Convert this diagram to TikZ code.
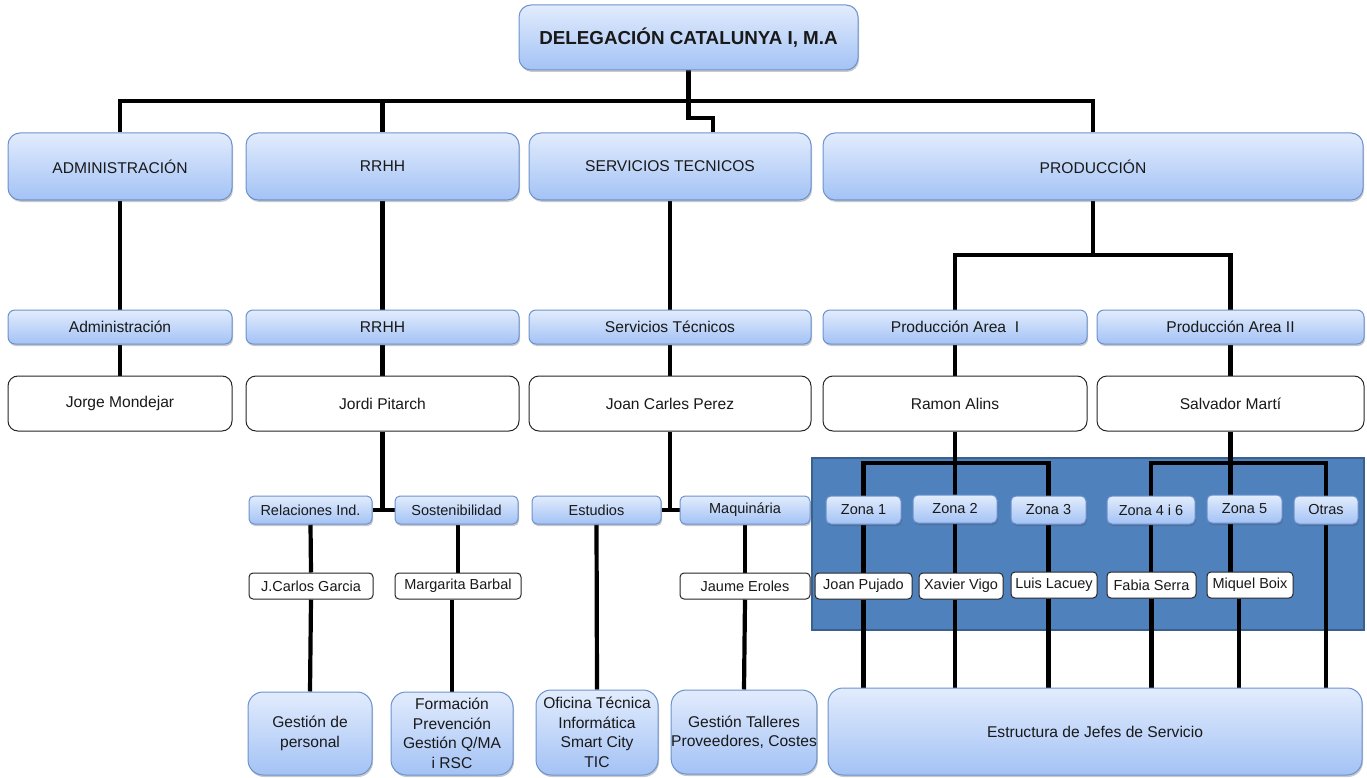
\documentclass[tikz,border=0pt]{standalone}
\usepackage{fontspec}
\setmainfont{Liberation Sans}
\usetikzlibrary{shadows}
\definecolor{blueTop}{RGB}{226,236,253}
\definecolor{blueBot}{RGB}{163,194,245}
\definecolor{blueBorder}{RGB}{108,146,204}
\definecolor{panelFill}{RGB}{79,129,189}
\definecolor{panelBorder}{RGB}{58,96,142}
\definecolor{txt}{RGB}{25,25,25}
\pgfdeclarelayer{panel}
\pgfdeclarelayer{lines}
\pgfsetlayers{panel,lines,main}
\tikzset{
  shade box/.style={draw=blueBorder, line width=1pt, top color=blueTop, bottom color=blueBot,
    rounded corners=#1, inner sep=0pt, align=center, text=txt,
    drop shadow={shadow xshift=1pt, shadow yshift=-2pt, opacity=0.3, fill=black!70}},
  white box/.style={draw=black!85, line width=1pt, fill=white, rounded corners=#1,
    inner sep=0pt, align=center, text=txt},
  big/.style={font=\fontsize{15.6}{19}\selectfont},
  small/.style={font=\fontsize{14.5}{18}\selectfont},
  bottomtxt/.style={font=\fontsize{15.6}{19.5}\selectfont},
  conn/.style={line width=4.2pt, draw=black},
}
\begin{document}
\begin{tikzpicture}[x=1pt,y=-1pt]
\useasboundingbox (0,0) rectangle (1367,778);

% title
\node[shade box=12, minimum width=339, minimum height=65, font=\fontsize{18.8}{22}\selectfont\bfseries] (title) at (688.5,37.5) {DELEGACIÓN CATALUNYA I, M.A};

% level 1
\node[shade box=12, big, minimum width=224, minimum height=67] (adm) at (120,166.5) {ADMINISTRACIÓN};
\node[shade box=12, big, minimum width=273, minimum height=67] (rrhh) at (382.5,166.5) {RRHH};
\node[shade box=12, big, minimum width=282, minimum height=67] (serv) at (670,166.5) {SERVICIOS TECNICOS};
\node[shade box=12, big, minimum width=540, minimum height=67] (prod) at (1093,166.5) {PRODUCCIÓN};

% level 2
\node[shade box=7, big, minimum width=224, minimum height=34] (adm2) at (120,327) {Administración};
\node[shade box=7, big, minimum width=273, minimum height=34] (rrhh2) at (382.5,327) {RRHH};
\node[shade box=7, big, minimum width=282, minimum height=34] (serv2) at (670,327) {Servicios Técnicos};
\node[shade box=7, big, minimum width=264, minimum height=34] (pa1) at (955,327) {Producción Area\ \ I};
\node[shade box=7, big, minimum width=267, minimum height=34] (pa2) at (1230.5,327) {Producción Area II};

% level 3
\node[white box=10, big, minimum width=224, minimum height=55] (jorge) at (120,403.5) {Jorge Mondejar};
\node[white box=10, big, minimum width=273, minimum height=55] (jordi) at (382.5,403.5) {Jordi Pitarch};
\node[white box=10, big, minimum width=282, minimum height=55] (jcp) at (670,403.5) {Joan Carles Perez};
\node[white box=10, big, minimum width=264, minimum height=55] (ramon) at (955,403.5) {Ramon Alins};
\node[white box=10, big, minimum width=267, minimum height=55] (salv) at (1230.5,403.5) {Salvador Martí};

% blue panel
\begin{pgfonlayer}{panel}
\draw[fill=panelFill, draw=panelBorder, line width=1.5pt] (812,458) rectangle (1364,630);
\end{pgfonlayer}

% row 4
\node[shade box=5, small, minimum width=123, minimum height=28] (rel) at (310.5,510) {Relaciones Ind.};
\node[shade box=5, small, minimum width=123, minimum height=28] (sos) at (456.5,510) {Sostenibilidad};
\node[shade box=5, small, minimum width=129, minimum height=28] (est) at (596.5,510) {Estudios};
\node[shade box=5, small, minimum width=130, minimum height=28] (maq) at (745,510) {Maquinária};
\node[shade box=5, small, minimum width=75, minimum height=28] (z1) at (863.5,510) {Zona 1};
\node[shade box=5, small, minimum width=84, minimum height=28] (z2) at (955,509) {Zona 2};
\node[shade box=5, small, minimum width=75, minimum height=28] (z3) at (1048.5,510) {Zona 3};
\node[shade box=5, small, minimum width=88, minimum height=28] (z4) at (1151,510) {Zona 4 i 6};
\node[shade box=5, small, minimum width=75, minimum height=28] (z5) at (1244.5,509) {Zona 5};
\node[shade box=5, small, minimum width=64, minimum height=28] (ot) at (1326,510) {Otras};

% row 5
\node[white box=4, small, minimum width=124, minimum height=26] (jcg) at (311,586) {J.Carlos Garcia};
\node[white box=4, small, minimum width=126, minimum height=26] (marg) at (458,586) {Margarita Barbal};
\node[white box=4, small, minimum width=130, minimum height=26] (jau) at (745,586) {Jaume Eroles};
\node[white box=4, small, minimum width=97, minimum height=26] (jp) at (863.5,586) {Joan Pujado};
\node[white box=4, small, minimum width=84, minimum height=26] (xv) at (961,586) {Xavier Vigo};
\node[white box=4, small, minimum width=86, minimum height=26] (ll) at (1054,585) {Luis Lacuey};
\node[white box=4, small, minimum width=89, minimum height=26] (fs) at (1151.5,585) {Fabia Serra};
\node[white box=4, small, minimum width=86, minimum height=26] (mb) at (1250,585) {Miquel Boix};

% bottom
\node[shade box=15, bottomtxt, minimum width=124, minimum height=83] (gp) at (310,733.5) {Gestión de\\personal};
\node[shade box=15, bottomtxt, minimum width=122, minimum height=83] (form) at (452,733.5) {Formación\\Prevención\\Gestión Q/MA\\i RSC};
\node[shade box=15, bottomtxt, minimum width=122, minimum height=85] (ofi) at (597,732.5) {Oficina Técnica\\Informática\\Smart City\\TIC};
\node[shade box=15, bottomtxt, minimum width=142, minimum height=84] (tal) at (744,732) {Gestión Talleres\\Proveedores, Costes};
\node[shade box=15, bottomtxt, minimum width=534, minimum height=87] (estr) at (1095,731.5) {Estructura de Jefes de Servicio};

% connectors
\begin{pgfonlayer}{lines}
\coordinate (topbar) at (0,101);
\coordinate (jog) at (713,118);
\draw[conn] (adm.north) -- (adm.north |- topbar) -- (prod.north |- topbar) -- (prod.north);
\draw[conn] (rrhh.north) -- (rrhh.north |- topbar);
\draw[conn] (title.south) |- (jog) -- (jog |- serv.north);

\draw[conn] (adm.south) -- (adm2.north);
\draw[conn] (rrhh.south) -- (rrhh2.north);
\draw[conn] (serv.south) -- (serv2.north);
\coordinate (pbar) at (0,255);
\draw[conn] (prod.south) -- (prod.south |- pbar);
\draw[conn] (pa1.north) -- (pa1.north |- pbar) -- (pa2.north |- pbar) -- (pa2.north);

\draw[conn] (adm2.south) -- (jorge.north);
\draw[conn] (rrhh2.south) -- (jordi.north);
\draw[conn] (serv2.south) -- (jcp.north);
\draw[conn] (pa1.south) -- (ramon.north);
\draw[conn] (pa2.south) -- (salv.north);

\draw[conn] (jordi.south) -- (jordi.south |- rel.east);
\draw[conn] (rel.east) -- (sos.west);
\draw[conn] (jcp.south) -- (jcp.south |- est.east);
\draw[conn] (est.east) -- (maq.west);

\draw[conn] (rel.south) -- (jcg.north);
\draw[conn] (jcg.south) -- (gp.north);
\draw[conn] (sos.south -| marg.north) -- (marg.north);
\draw[conn] (form.north |- marg.south) -- (form.north);
\draw[conn] (est.south) -- (ofi.north);
\draw[conn] (maq.south) -- (jau.north);
\draw[conn] (jau.south) -- (tal.north);

\coordinate (zbar) at (0,463);
\draw[conn] (ramon.south) -- (z2.north);
\draw[conn] (z1.north) -- (z1.north |- zbar) -- (z3.north |- zbar) -- (z3.north);
\draw[conn] (salv.south) -- (salv.south |- z5.north);
\draw[conn] (z4.north) -- (z4.north |- zbar) -- (ot.north |- zbar) -- (ot.north);

\draw[conn] (z1.south) -- (jp.north);
\draw[conn] (z2.south) -- (z2.south |- xv.north);
\draw[conn] (z3.south) -- (z3.south |- ll.north);
\draw[conn] (z4.south) -- (z4.south |- fs.north);
\draw[conn] (salv.south |- z5.south) -- (salv.south |- mb.north);
\draw[conn] (ot.south) -- (ot.south |- estr.north);

\draw[conn] (jp.south) -- (jp.south |- estr.north);
\draw[conn] (z2.south |- xv.south) -- (z2.south |- estr.north);
\draw[conn] (z3.south |- ll.south) -- (z3.south |- estr.north);
\draw[conn] (fs.south) -- (fs.south |- estr.north);
\draw[conn] ([xshift=-11pt]mb.south) -- ([xshift=-11pt]mb.south |- estr.north);
\end{pgfonlayer}
\end{tikzpicture}
\end{document}
